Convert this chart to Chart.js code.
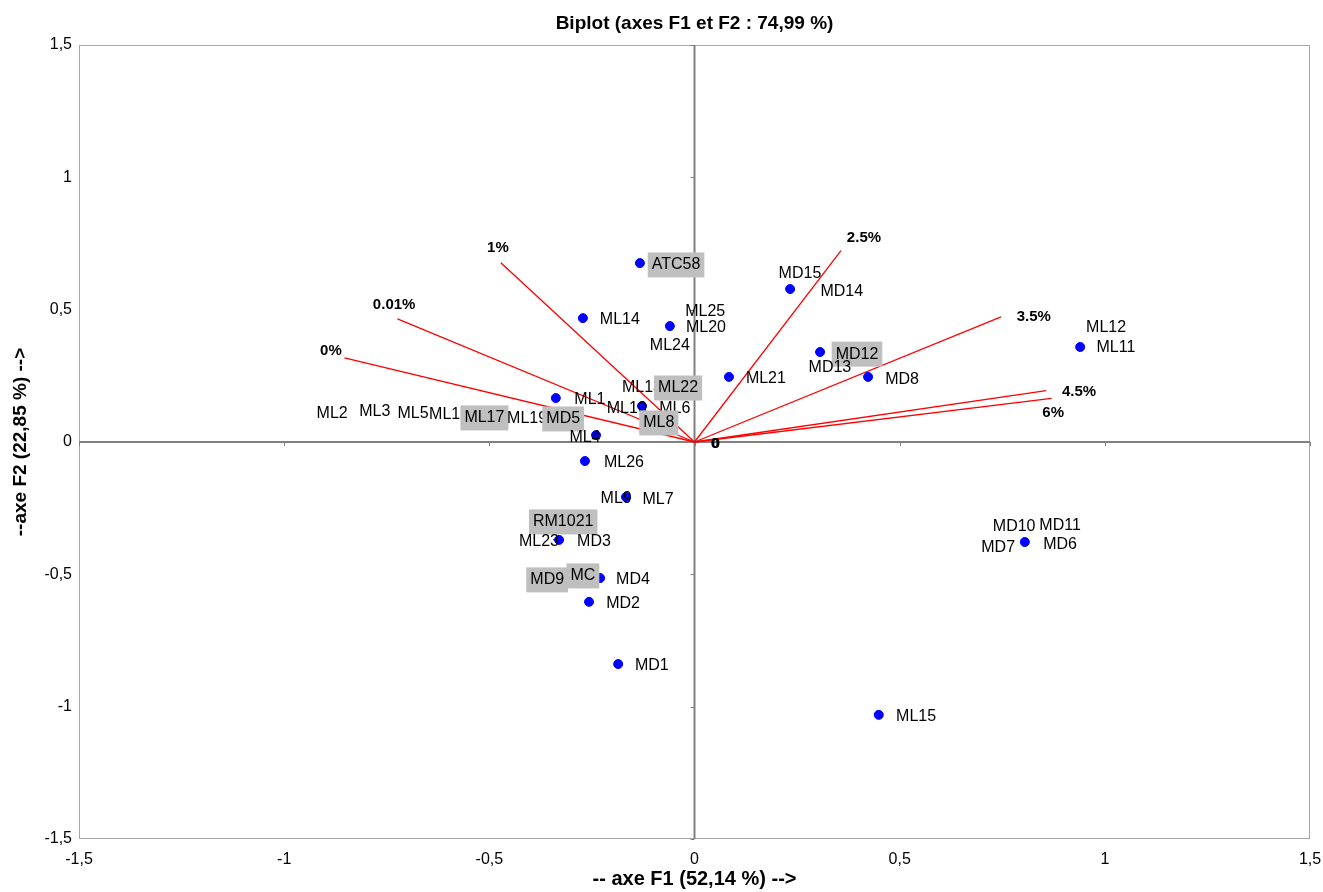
<!DOCTYPE html>
<html lang="fr">
<head>
<meta charset="UTF-8">
<title>Biplot (axes F1 et F2 : 74,99 %)</title>
<script src="https://cdn.jsdelivr.net/npm/chart.js@4.4.1/dist/chart.umd.min.js"></script>
<style>
  body { margin: 0; background: #fff; }
  #wrap { width: 1323px; height: 892px; }
</style>
</head>
<body>
<div id="wrap"><canvas id="biplot" width="1323" height="892"></canvas></div>
<script>
// observations (blue dots)
const ptX = [-0.133, -0.272, -0.060, 0.233, 0.084, 0.306, 0.423, 0.940, -0.338, -0.128,
             -0.240, -0.267, -0.167, -0.330, -0.230, -0.257, -0.186, 0.449, 0.805];
const ptY = [0.676, 0.468, 0.438, 0.578, 0.246, 0.340, 0.246, 0.359, 0.166, 0.136,
             0.026, -0.072, -0.208, -0.370, -0.514, -0.604, -0.839, -1.031, -0.378];

// observation labels (drawn in this order, boxed ones are highlighted)
const obsNames = ['ATC58', 'ML14', 'ML25', 'ML20', 'ML24', 'MD15', 'MD14', 'ML21', 'MD12', 'MD13',
                  'MD8', 'ML12', 'ML11', 'ML1', 'ML2', 'ML3', 'ML5', 'ML18', 'ML17', 'ML19',
                  'MD5', 'ML4', 'ML13', 'ML10', 'ML6', 'ML22', 'ML8', 'ML26', 'ML9', 'ML7',
                  'RM1021', 'ML23', 'MD3', 'MD9', 'MC', 'MD4', 'MD2', 'MD1', 'ML15', 'MD10',
                  'MD11', 'MD7', 'MD6'];
const obsLabX = [-0.045, -0.182, 0.026, 0.028, -0.060, 0.257, 0.359, 0.174, 0.396, 0.330,
                 0.506, 1.003, 1.027, -0.255, -0.883, -0.779, -0.686, -0.598, -0.512, -0.408,
                 -0.320, -0.267, -0.128, -0.165, -0.048, -0.040, -0.087, -0.172, -0.191, -0.089,
                 -0.320, -0.379, -0.245, -0.359, -0.272, -0.150, -0.174, -0.104, 0.540, 0.779,
                 0.891, 0.740, 0.891];
const obsLabY = [0.669, 0.461, 0.491, 0.431, 0.363, 0.635, 0.570, 0.238, 0.332, 0.280,
                 0.234, 0.431, 0.355, 0.162, 0.106, 0.113, 0.106, 0.102, 0.091, 0.087,
                 0.087, 0.015, 0.204, 0.128, 0.128, 0.204, 0.072, -0.079, -0.212, -0.219,
                 -0.302, -0.378, -0.378, -0.521, -0.506, -0.518, -0.612, -0.846, -1.039, -0.321,
                 -0.317, -0.400, -0.389];
const obsBoxed = ['ATC58', 'MD12', 'ML17', 'MD5', 'ML22', 'ML8', 'RM1021', 'MD9', 'MC'];

// variables (red vectors)
const varNames = ['0%', '0.01%', '1%', '2.5%', '3.5%', '4.5%', '6%'];
const varX = [-0.853, -0.724, -0.472, 0.357, 0.747, 0.857, 0.870];
const varY = [0.318, 0.465, 0.677, 0.723, 0.473, 0.194, 0.165];
const varLabX = [-0.886, -0.732, -0.479, 0.413, 0.827, 0.937, 0.874];
const varLabY = [0.344, 0.518, 0.733, 0.771, 0.472, 0.189, 0.110];
// the two null variables sit at the origin
const zeroLabX = 0.050, zeroLabY = -0.008;

const FONT = '"Liberation Sans", Arial, Helvetica, sans-serif';
const comma = v => String(v).replace('.', ',');

const datasets = [{
    label: 'Observations',
    data: ptX.map((x, i) => ({ x: x, y: ptY[i] })),
    backgroundColor: '#0000ff',
    borderColor: '#0000ff',
    pointRadius: 4.5,
    showLine: false,
    order: 0
}];
varNames.forEach((n, i) => {
    datasets.push({
        label: n,
        data: [{ x: 0, y: 0 }, { x: varX[i], y: varY[i] }],
        showLine: true,
        borderColor: '#ff0000',
        borderWidth: 1.3,
        pointRadius: 0,
        order: 1
    });
});

// frame, central axes and all text labels
const biplotDecor = {
    id: 'biplotDecor',
    beforeDatasetsDraw(chart) {
        const { ctx, chartArea: a, scales: { x, y } } = chart;
        ctx.save();
        ctx.strokeStyle = '#a6a6a6';
        ctx.lineWidth = 1;
        ctx.strokeRect(a.left + 0.5, a.top + 0.5, a.width - 1, a.height - 1);
        const x0 = x.getPixelForValue(0), y0 = y.getPixelForValue(0);
        ctx.strokeStyle = '#808080';
        ctx.lineWidth = 2;
        ctx.beginPath();
        ctx.moveTo(a.left, y0); ctx.lineTo(a.right, y0);
        ctx.moveTo(x0, a.top); ctx.lineTo(x0, a.bottom);
        ctx.stroke();
        ctx.lineWidth = 1;
        ctx.beginPath();
        x.ticks.forEach(t => {
            const px = Math.round(x.getPixelForValue(t.value)) + 0.5;
            ctx.moveTo(px, y0); ctx.lineTo(px, y0 + 4);
        });
        y.ticks.forEach(t => {
            const py = Math.round(y.getPixelForValue(t.value)) + 0.5;
            ctx.moveTo(x0 - 4, py); ctx.lineTo(x0, py);
        });
        ctx.stroke();
        ctx.restore();
    },
    afterDatasetsDraw(chart) {
        const { ctx, scales: { x, y } } = chart;
        ctx.save();
        ctx.textAlign = 'center';
        ctx.textBaseline = 'middle';
        ctx.font = 'bold 15px ' + FONT;
        ctx.fillStyle = '#000';
        varNames.forEach((n, i) => {
            ctx.fillText(n, x.getPixelForValue(varLabX[i]), y.getPixelForValue(varLabY[i]));
        });
        ctx.fillText('0', x.getPixelForValue(zeroLabX), y.getPixelForValue(zeroLabY));
        ctx.fillText('0', x.getPixelForValue(zeroLabX) + 1, y.getPixelForValue(zeroLabY));

        ctx.font = '16px ' + FONT;
        obsNames.forEach((n, i) => {
            const px = x.getPixelForValue(obsLabX[i]);
            const py = y.getPixelForValue(obsLabY[i]);
            if (obsBoxed.includes(n)) {
                const w = ctx.measureText(n).width + 8;
                ctx.fillStyle = '#bfbfbf';
                ctx.fillRect(px - w / 2, py - 12.5, w, 25);
            }
            ctx.fillStyle = '#000';
            ctx.fillText(n, px, py);
        });
        ctx.restore();
    }
};

new Chart(document.getElementById('biplot'), {
    type: 'scatter',
    data: { datasets: datasets },
    plugins: [biplotDecor],
    options: {
        responsive: false,
        animation: false,
        layout: { padding: { left: 0, right: 13, top: 0, bottom: 0 } },
        plugins: {
            legend: { display: false },
            tooltip: { enabled: false },
            title: {
                display: true,
                text: 'Biplot (axes F1 et F2 : 74,99 %)',
                fullSize: false,
                color: '#000',
                font: { family: FONT, size: 19, weight: 'bold' },
                padding: { top: 12.6, bottom: 9.6 }
            }
        },
        scales: {
            x: {
                type: 'linear',
                min: -1.5, max: 1.5,
                grid: { display: false, drawTicks: false },
                border: { display: false },
                ticks: {
                    stepSize: 0.5,
                    padding: 11,
                    color: '#000',
                    font: { family: FONT, size: 16 },
                    callback: v => comma(v)
                },
                title: {
                    display: true,
                    text: '-- axe F1 (52,14 %) -->',
                    color: '#000',
                    font: { family: FONT, size: 20, weight: 'bold' },
                    padding: { top: 0, bottom: 1 }
                },
                afterFit: s => { s.height = 53; s.paddingLeft = 0; s.paddingRight = 0; }
            },
            y: {
                type: 'linear',
                min: -1.5, max: 1.5,
                grid: { display: false, drawTicks: false },
                border: { display: false },
                ticks: {
                    stepSize: 0.5,
                    padding: 7,
                    color: '#000',
                    font: { family: FONT, size: 16 },
                    callback: v => comma(v)
                },
                title: {
                    display: true,
                    text: '--axe F2 (22,85 %) -->',
                    color: '#000',
                    font: { family: FONT, size: 19, weight: 'bold' },
                    padding: { top: 9, bottom: 0 }
                },
                afterFit: s => { s.width = 79; s.paddingTop = 0; s.paddingBottom = 0; }
            }
        }
    }
});
</script>
</body>
</html>
